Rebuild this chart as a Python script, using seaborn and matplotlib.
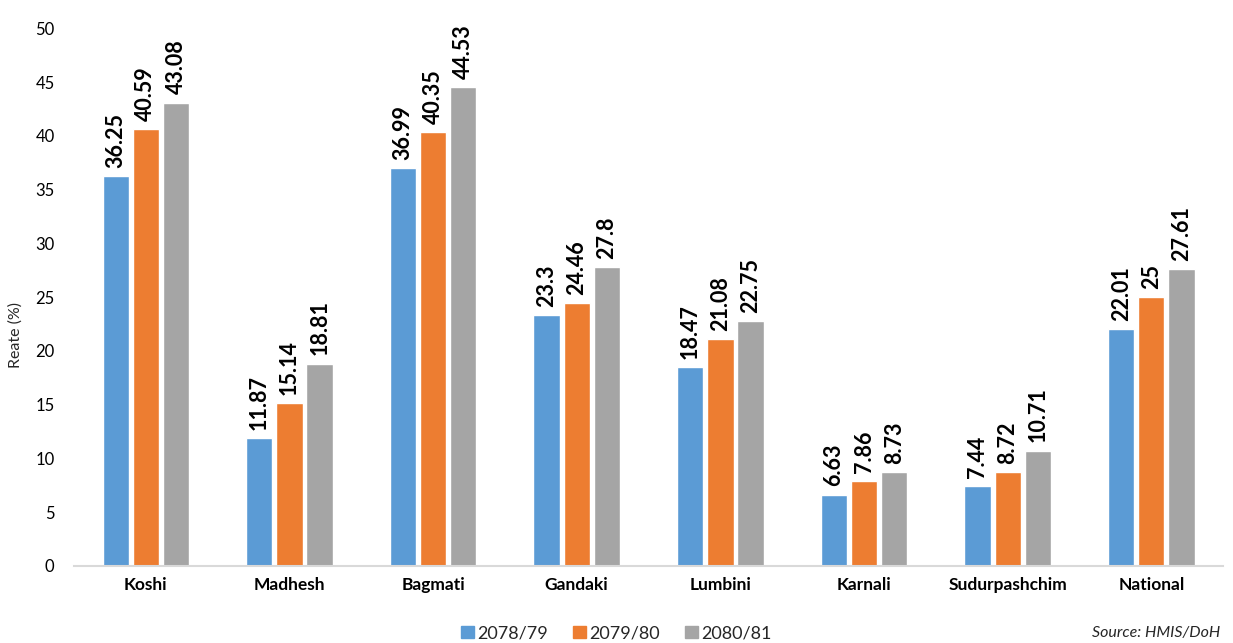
import matplotlib
matplotlib.use("Agg")
import matplotlib.pyplot as plt
import seaborn as sns
import pandas as pd

provinces = ["Koshi", "Madhesh", "Bagmati", "Gandaki", "Lumbini",
             "Karnali", "Sudurpashchim", "National"]
years = ["2078/79", "2079/80", "2080/81"]
rate_2078_79 = [36.25, 11.87, 36.99, 23.3, 18.47, 6.63, 7.44, 22.01]
rate_2079_80 = [40.59, 15.14, 40.35, 24.46, 21.08, 7.86, 8.72, 25]
rate_2080_81 = [43.08, 18.81, 44.53, 27.8, 22.75, 8.73, 10.71, 27.61]
colors = ["#5B9BD5", "#ED7D31", "#A5A5A5"]

series = [rate_2078_79, rate_2079_80, rate_2080_81]
df = pd.DataFrame({
    "Province": provinces * 3,
    "Year": [y for y in years for _ in provinces],
    "Rate": [v for s in series for v in s],
})

sns.set_theme(style="white")
plt.rcParams["font.family"] = ["Lato", "DejaVu Sans"]

fig = plt.figure(figsize=(12.33, 6.43), dpi=100)
ax = fig.add_axes([0.060, 0.120, 0.932, 0.836])

sns.barplot(data=df, x="Province", y="Rate", hue="Year", order=provinces,
            hue_order=years, palette=colors, saturation=1, width=0.63,
            gap=0.13, errorbar=None, legend=False, ax=ax)

for cont in ax.containers:
    ax.bar_label(cont, labels=[f"{v:g}" for v in cont.datavalues],
                 rotation=90, padding=6, fontsize=15.5, fontweight="bold",
                 color="black", clip_on=False)

ax.set_ylim(0, 50)
ax.set_xlim(-0.5, len(provinces) - 0.5)
ax.set_yticks(range(0, 51, 5))
ax.tick_params(axis="y", labelsize=12, length=0, pad=14, colors="black")
ax.tick_params(axis="x", labelsize=12.5, length=0, pad=8, colors="black")
for lbl in ax.get_xticklabels():
    lbl.set_fontweight("bold")
ax.set_xlabel("")
ax.set_ylabel("Reate (%)", fontsize=11.5, labelpad=12)
ax.yaxis.set_label_coords(-0.045, 0.43)
for side in ["top", "right", "left"]:
    ax.spines[side].set_visible(False)
ax.spines["bottom"].set_color("#D9D9D9")
ax.spines["bottom"].set_linewidth(1.5)

handles = [plt.Rectangle((0, 0), 1, 1, color=c) for c in colors]
fig.legend(handles, years, loc="center", bbox_to_anchor=(0.5, 0.015),
           ncol=3, frameon=False, fontsize=13, handlelength=0.7,
           handleheight=0.7, handletextpad=0.2, columnspacing=1.4)

fig.text(0.99, 0.015, "Source: HMIS/DoH", ha="right", va="center",
         fontsize=11.5, fontstyle="italic")

fig.savefig("out.png", dpi=100)
